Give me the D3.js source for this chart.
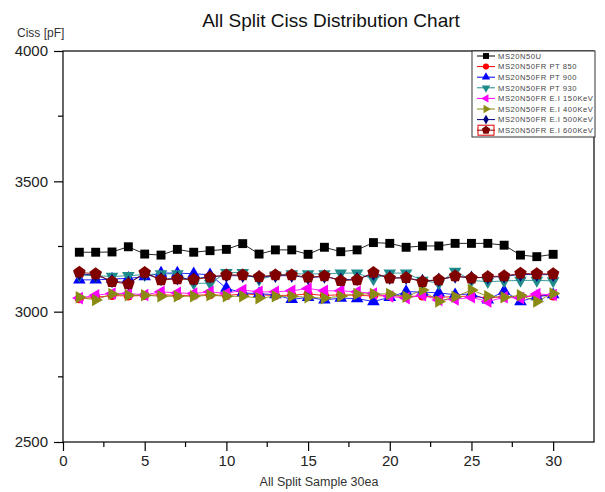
<!DOCTYPE html>
<html><head><meta charset="utf-8">
<script src="https://cdn.jsdelivr.net/npm/d3@7"></script>
<style>
html,body{margin:0;padding:0;background:#fff;}
svg text{font-family:"Liberation Sans",Arial,sans-serif;}
</style></head>
<body><svg id="c" width="605" height="492"></svg>
<script>
const samples = d3.range(1, 31);
const seriesNames = ["MS20N50U","MS20N50FR PT 850","MS20N50FR PT 900","MS20N50FR PT 930","MS20N50FR E.I 150KeV","MS20N50FR E.I 400KeV","MS20N50FR E.I 500KeV","MS20N50FR E.I 600KeV"];
const s1 = [3228,3228,3229,3249,3221,3217,3239,3228,3234,3239,3261,3221,3237,3237,3220,3247,3230,3237,3265,3262,3247,3252,3252,3262,3262,3262,3255,3217,3211,3220];
const s2 = [3050,3055,3062,3060,3062,3065,3062,3063,3065,3062,3068,3065,3062,3063,3068,3062,3065,3063,3060,3062,3058,3060,3055,3058,3060,3052,3058,3055,3062,3060];
const s3 = [3122,3122,3125,3128,3134,3148,3148,3145,3142,3090,3072,3069,3065,3047,3055,3045,3052,3050,3039,3055,3077,3075,3072,3065,3068,3045,3079,3039,3058,3065];
const s4 = [3140,3138,3135,3138,3142,3145,3145,3109,3109,3150,3150,3123,3140,3145,3145,3145,3148,3148,3125,3148,3148,3120,3109,3155,3120,3115,3118,3120,3120,3118];
const s5 = [3052,3063,3070,3070,3064,3076,3072,3070,3076,3070,3083,3076,3076,3080,3089,3080,3080,3076,3070,3058,3052,3063,3045,3047,3055,3039,3055,3052,3068,3064];
const s6 = [3055,3045,3068,3063,3063,3059,3059,3059,3063,3059,3059,3052,3059,3059,3055,3052,3059,3068,3068,3068,3057,3083,3039,3057,3083,3059,3055,3063,3039,3070];
const s7 = [3145,3140,3118,3110,3145,3125,3128,3125,3135,3138,3138,3132,3138,3138,3130,3135,3122,3125,3145,3130,3130,3118,3122,3135,3130,3132,3135,3143,3142,3142];
const s8 = [3151,3145,3115,3106,3150,3122,3125,3123,3132,3141,3141,3134,3141,3141,3132,3137,3119,3122,3150,3128,3130,3115,3122,3137,3128,3134,3137,3147,3145,3145];
const seriesValues = [s1,s2,s3,s4,s5,s6,s7,s8];
const colors = ["#000000","#ff0000","#0000ff","#1f8a8a","#ff00ff","#8b8b14","#000080","#800000"];
const shapes = ["square","circle","up","down","left","right","diamond","pentagon"];
const xTicks = [0,5,10,15,20,25,30];
const yTicks = [2500,3000,3500,4000];

const svg = d3.select("#c");
const L = 63, R = 594, T = 51, B = 442;
const x = d3.scaleLinear().domain([0, 32.5]).range([L, R]);
const y = d3.scaleLinear().domain([2500, 4000]).range([B, T]);

function shapePath(kind, s) {
  if (kind === "pentagon") {
    const r = s * 0.62;
    const pts = d3.range(5).map(k => { const a = -Math.PI/2 + k*2*Math.PI/5; return [r*Math.cos(a), r*Math.sin(a)]; });
    return "M" + pts.map(p => p.join(",")).join("L") + "Z";
  }
  if (kind === "square") return d3.symbol(d3.symbolSquare, s*s*0.72)();
  if (kind === "circle") return d3.symbol(d3.symbolCircle, s*s*0.6)();
  if (kind === "diamond") return d3.symbol(d3.symbolDiamond, s*s*0.55)();
  return d3.symbol(d3.symbolTriangle, s*s*0.62)();
}
function rot(kind){ return kind==="down"?180:kind==="left"?-90:kind==="right"?90:0; }

// title
svg.append("text").attr("x", 331).attr("y", 27).attr("text-anchor","middle")
  .attr("font-size", 19).attr("fill","#111").text("All Split Ciss Distribution Chart");
svg.append("text").attr("x", 17).attr("y", 37).attr("font-size", 12).attr("fill","#333").text("Ciss [pF]");
svg.append("text").attr("x", 319).attr("y", 486).attr("text-anchor","middle").attr("font-size", 12.5).attr("fill","#333").text("All Split Sample 30ea");

// frame
svg.append("rect").attr("x", L).attr("y", T).attr("width", R-L).attr("height", B-T)
  .attr("fill","none").attr("stroke","#000").attr("stroke-width",1.2);

// axes
const xAxis = d3.axisBottom(x).tickValues(xTicks).tickSize(9).tickPadding(4).tickFormat(d3.format("d"));
const gx = svg.append("g").attr("transform", `translate(0,${B})`).call(xAxis);
gx.select(".domain").remove();
gx.selectAll("text").attr("font-size", 15).attr("fill","#222").attr("font-family","Liberation Sans, Arial, sans-serif");
gx.selectAll("line").attr("stroke","#000").attr("stroke-width",1.2);
const xMinor = d3.range(2.5, 32.5, 5);
svg.append("g").selectAll("line").data(xMinor).join("line")
  .attr("x1", d=>x(d)).attr("x2", d=>x(d)).attr("y1", B).attr("y2", B+5).attr("stroke","#000").attr("stroke-width",1.2);

const yAxis = d3.axisLeft(y).tickValues(yTicks).tickSize(9).tickPadding(6).tickFormat(d3.format("d"));
const gy = svg.append("g").attr("transform", `translate(${L},0)`).call(yAxis);
gy.select(".domain").remove();
gy.selectAll("text").attr("font-size", 15).attr("fill","#222").attr("font-family","Liberation Sans, Arial, sans-serif");
gy.selectAll("line").attr("stroke","#000").attr("stroke-width",1.2);
const yMinor = [2750,3250,3750];
svg.append("g").selectAll("line").data(yMinor).join("line")
  .attr("x1", L-5).attr("x2", L).attr("y1", d=>y(d)).attr("y2", d=>y(d)).attr("stroke","#000").attr("stroke-width",1.2);

// series
const line = d3.line().x((d,i)=>x(samples[i])).y(d=>y(d));
seriesValues.forEach((vals, si) => {
  const g = svg.append("g");
  g.append("path").attr("d", line(vals)).attr("fill","none").attr("stroke", colors[si]).attr("stroke-width", 1).attr("opacity",0.85);
  g.selectAll("path.m").data(vals).join("path").attr("class","m")
    .attr("d", shapePath(shapes[si], 10.5))
    .attr("transform", (d,i)=>`translate(${x(samples[i])},${y(d)}) rotate(${rot(shapes[si])})`)
    .attr("fill", colors[si]);
});

// legend
const lg = svg.append("g");
const LX = 472, LY = 51, LW = 123, LH = 86;
lg.append("rect").attr("x", LX).attr("y", LY).attr("width", LW).attr("height", LH)
  .attr("fill","#fff").attr("stroke","#333").attr("stroke-width",1);
seriesNames.forEach((name, i) => {
  const cy = 56 + i*10.6;
  lg.append("line").attr("x1", 477).attr("x2", 495).attr("y1", cy).attr("y2", cy).attr("stroke", colors[i]).attr("stroke-width",1);
  lg.append("path").attr("d", shapePath(shapes[i], 7)).attr("transform", `translate(486,${cy}) rotate(${rot(shapes[i])})`).attr("fill", colors[i]);
  if (i === 7) lg.append("rect").attr("x", 478).attr("y", cy-5).attr("width", 16).attr("height", 10).attr("fill","none").attr("stroke","#d00").attr("stroke-width",1);
  lg.append("text").attr("x", 498).attr("y", cy+2.8).attr("font-size", 7.6).attr("letter-spacing", 0.55).attr("fill","#444").text(name);
});
</script></body></html>
